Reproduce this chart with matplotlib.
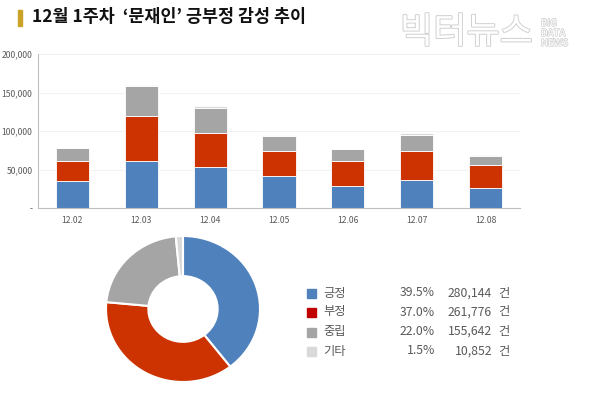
"""
Weekly sentiment chart: stacked daily bars plus a donut of the week's totals.
"""

import matplotlib

matplotlib.use("Agg")
import matplotlib.pyplot as plt
import matplotlib.patheffects as pe
from matplotlib.patches import Rectangle

plt.rcParams["font.family"] = ["Noto Sans CJK KR", "DejaVu Sans"]

# daily counts
dates = ["12.02", "12.03", "12.04", "12.05", "12.06", "12.07", "12.08"]
positive = [34600, 60600, 53000, 42000, 28000, 36800, 25500]
negative = [26400, 59400, 44400, 31600, 33000, 37700, 30300]
neutral = [17000, 39000, 32600, 20400, 15000, 19900, 11700]
other = [500, 500, 3000, 1000, 1000, 3600, 900]

# weekly totals
labels = ["긍정", "부정", "중립", "기타"]
shares = [39.5, 37.0, 22.0, 1.5]
counts = [280144, 261776, 155642, 10852]

yticks = [0, 50000, 100000, 150000, 200000]
ytick_labels = ["-", "50,000", "100,000", "150,000", "200,000"]

BLUE = "#4f81bd"
RED = "#cc3300"
GRAY = "#a5a5a5"
LIGHT = "#d9d9d9"
LEGEND_RED = "#c00000"
TEXT = "#595959"

W, H = 600, 396
fig = plt.figure(figsize=(W / 100, H / 100), dpi=100)


def box(x0, y0, x1, y1):
    # pixel box (top-left origin) -> figure fraction rect
    return [x0 / W, 1 - y1 / H, (x1 - x0) / W, (y1 - y0) / H]


# title with gold marker
fig.patches.append(Rectangle((18 / W, 1 - 26 / H), 4 / W, 16 / H,
                             transform=fig.transFigure, color="#c9a227"))
fig.text(32 / W, 1 - 17 / H, "12월 1주차  ‘문재인’ 긍부정 감성 추이",
         fontsize=12.5, fontweight="bold", color="#111111", va="center")

# watermark
wm = fig.text(400 / W, 1 - 33 / H, "빅터뉴스", fontsize=26, color="white",
              va="center")
wm.set_path_effects([pe.Stroke(linewidth=1.4, foreground="#d0d0d0"), pe.Normal()])
wm2 = fig.text(541 / W, 1 - 33 / H, "BIG\nDATA\nNEWS", fontsize=7, color="white",
               va="center", linespacing=1.0)
wm2.set_path_effects([pe.Stroke(linewidth=1.0, foreground="#d0d0d0"), pe.Normal()])

# stacked bars
ax = fig.add_axes(box(38, 54, 520, 208))
x = range(len(dates))
b1 = positive
b2 = [a + b for a, b in zip(b1, negative)]
b3 = [a + b for a, b in zip(b2, neutral)]
kw = dict(width=0.48, edgecolor="white", linewidth=0.6)
ax.bar(x, positive, color=BLUE, **kw)
ax.bar(x, negative, bottom=b1, color=RED, **kw)
ax.bar(x, neutral, bottom=b2, color=GRAY, **kw)
ax.bar(x, other, bottom=b3, color=LIGHT, **kw)
ax.set_xlim(-0.5, len(dates) - 0.5)
ax.set_ylim(0, 200000)
ax.set_yticks(yticks)
ax.set_yticklabels(ytick_labels)
ax.set_xticks(list(x))
ax.set_xticklabels(dates)
ax.tick_params(axis="both", labelsize=6.2, colors=TEXT, length=0, pad=6)
ax.tick_params(axis="y", pad=4)
ax.grid(axis="y", color="#f0f0f0", linewidth=0.6)
ax.set_axisbelow(True)
for side in ("top", "right"):
    ax.spines[side].set_visible(False)
for side in ("left", "bottom"):
    ax.spines[side].set_color("#bfbfbf")
    ax.spines[side].set_linewidth(0.8)

# donut
pax = fig.add_axes(box(106, 236, 260, 382))
pax.pie(shares, colors=[BLUE, RED, GRAY, LIGHT], startangle=90,
        counterclock=False, radius=1.0,
        wedgeprops=dict(width=0.55, edgecolor="white", linewidth=1.5))
pax.set_aspect("auto")
pax.set_xlim(-1.0, 1.0)
pax.set_ylim(-1.0, 1.0)

# legend table
colors = [BLUE, LEGEND_RED, GRAY, LIGHT]
rows_y = [293, 312, 331.5, 351]
fs = 8.8
for lab, sh, cnt, col, yy in zip(labels, shares, counts, colors, rows_y):
    fig.patches.append(Rectangle((307 / W, 1 - (yy + 5) / H), 9 / W, 9 / H,
                                 transform=fig.transFigure, color=col))
    fig.text(323 / W, 1 - yy / H, lab, fontsize=fs, color=TEXT, va="center")
    fig.text(435 / W, 1 - yy / H, f"{sh:.1f}%", fontsize=fs, color=TEXT,
             va="center", ha="right", fontweight="medium")
    fig.text(492 / W, 1 - yy / H, f"{cnt:,}", fontsize=fs, color=TEXT,
             va="center", ha="right", fontweight="medium")
    fig.text(498 / W, 1 - yy / H, "건", fontsize=fs, color=TEXT, va="center")

fig.savefig("out.png", dpi=100)
